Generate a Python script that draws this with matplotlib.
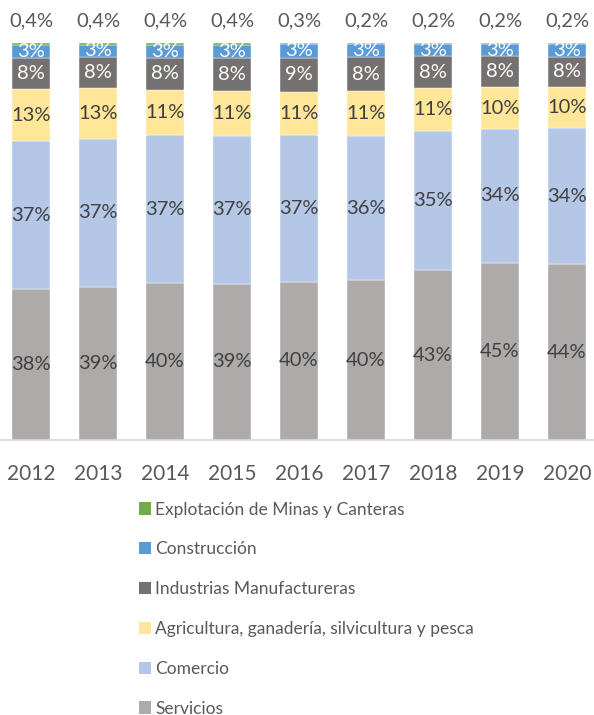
import matplotlib
matplotlib.use("Agg")
import matplotlib.pyplot as plt
from matplotlib.patches import Patch
import numpy as np

plt.rcParams['font.family'] = ['Lato', 'DejaVu Sans']

years = ['2012', '2013', '2014', '2015', '2016', '2017', '2018', '2019', '2020']
servicios = [38.0, 38.6, 39.5, 39.3, 39.8, 40.2, 42.8, 44.6, 44.3]
comercio = [37.2, 37.3, 37.3, 37.3, 37.0, 36.3, 35.1, 33.9, 34.2]
agricultura = [13.3, 12.9, 11.3, 11.3, 10.9, 11.3, 10.8, 10.4, 10.4]
industrias = [7.8, 7.8, 8.2, 8.3, 8.6, 8.5, 7.9, 7.8, 7.6]
construccion = [3.3, 3.1, 3.3, 3.4, 3.4, 3.4, 3.2, 3.2, 3.3]
minas = [0.4, 0.4, 0.4, 0.4, 0.3, 0.2, 0.2, 0.2, 0.2]

series = [
    ('Servicios', servicios, '#AEAAAA', '#404040'),
    ('Comercio', comercio, '#B4C7E7', '#404040'),
    ('Agricultura, ganadería, silvicultura y pesca', agricultura, '#FFE699', '#404040'),
    ('Industrias Manufactureras', industrias, '#767171', 'white'),
    ('Construcción', construccion, '#5B9BD5', 'white'),
    ('Explotación de Minas y Canteras', minas, '#70AD47', None),
]

fig = plt.figure(figsize=(5.94, 7.15), dpi=100)
ax = fig.add_axes([0, (715 - 440) / 715, 1, (440 - 43) / 715])

x = np.arange(len(years))
totals = np.sum([s[1] for s in series], axis=0)
bottom = np.zeros(len(years))
for name, vals, col, tcol in series:
    v = np.array(vals) / totals * 100
    ax.bar(x, v, 0.57, bottom=bottom, color=col, edgecolor='white', linewidth=0.3)
    if tcol:
        for xi, b, h, raw in zip(x, bottom, v, vals):
            ax.text(xi, b + h / 2, f"{raw:.0f}%", ha='center', va='center',
                    color=tcol, fontsize=14.5)
    bottom += v

for xi, raw in zip(x, minas):
    ax.text(xi, 105.5, f"{raw:.1f}".replace('.', ',') + '%', ha='center',
            va='center', color='#595959', fontsize=14.5, clip_on=False)

ax.set_xlim(-31 / 67, (594 - 31) / 67)
ax.set_ylim(0, 100)
ax.set_xticks(x)
ax.set_xticklabels(years, fontsize=15, color='#595959')
ax.tick_params(axis='x', length=0, pad=17)
ax.set_yticks([])
for s in ['top', 'right', 'left']:
    ax.spines[s].set_visible(False)
ax.spines['bottom'].set_color('#D9D9D9')
ax.spines['bottom'].set_linewidth(1.2)

handles = [Patch(facecolor=s[2]) for s in series[::-1]]
labels = [s[0] for s in series[::-1]]
fig.legend(handles, labels, loc='upper left', bbox_to_anchor=(123 / 594, (715 - 486) / 715),
           frameon=False, fontsize=12.5, handlelength=0.7, handleheight=0.7,
           handletextpad=0.25, labelspacing=1.37, labelcolor='#595959')

fig.savefig('out.png', dpi=100)
